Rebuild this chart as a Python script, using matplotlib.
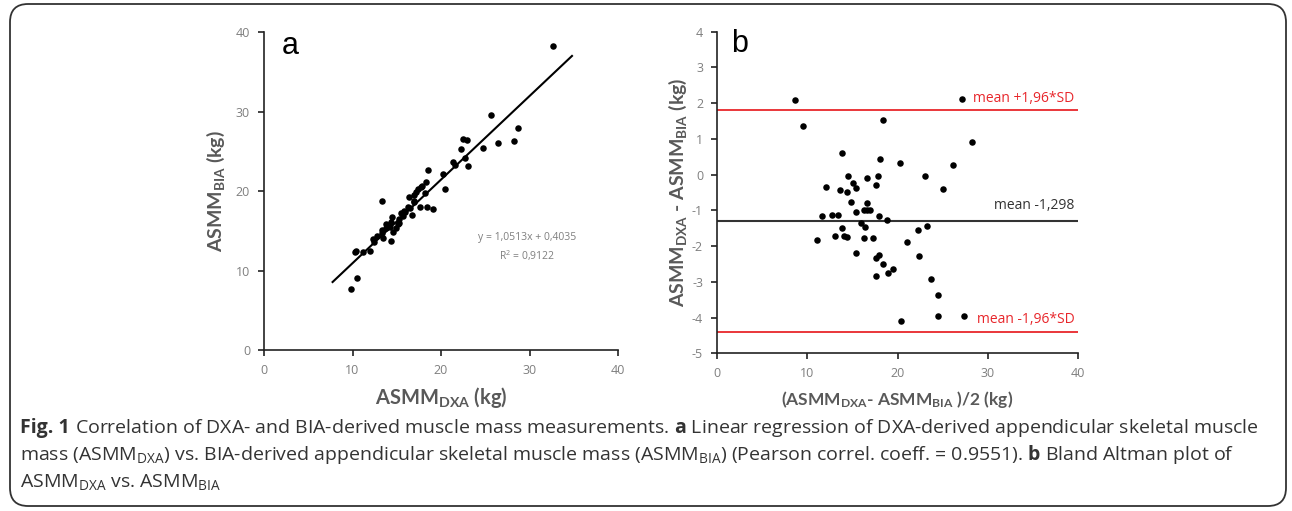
import matplotlib
matplotlib.use("Agg")
import matplotlib.pyplot as plt
from matplotlib.patches import FancyBboxPatch
import numpy as np

plt.rcParams['axes.unicode_minus'] = False
plt.rcParams['mathtext.fontset'] = 'custom'
plt.rcParams['mathtext.rm'] = 'Open Sans'
plt.rcParams['mathtext.it'] = 'Open Sans:italic'
plt.rcParams['mathtext.bf'] = 'Open Sans:bold'
plt.rcParams['mathtext.sf'] = 'Lato:bold'

# ---- Panel a data: ASMM_DXA vs ASMM_BIA ----
dxa = [32.7, 25.6, 28.7, 26.4, 28.2, 24.8, 22.5, 22.9, 22.3, 22.7, 23.1, 21.3, 21.6,
       20.2, 20.5, 18.5, 18.3, 17.7, 17.4, 18.2, 19.1, 18.4, 17.6, 16.9, 17.0, 16.4,
       16.9, 16.5, 15.8, 15.5, 15.7, 16.7, 15.3, 15.1, 14.5, 14.4, 14.2, 14.6, 13.8,
       13.3, 13.3, 13.3, 12.8, 13.5, 14.3, 12.3, 12.4, 12.0, 11.2, 10.3, 10.5, 9.8,
       15.3, 16.3, 15.9, 13.8, 14.9, 17.2, 17.9, 10.4]
bia = [38.3, 29.6, 27.9, 26.1, 26.3, 25.4, 26.6, 26.4, 25.3, 24.2, 23.2, 23.7, 23.3,
       22.1, 20.3, 22.6, 21.1, 20.5, 20.2, 19.7, 17.7, 18.0, 18.0, 18.8, 19.5, 19.3,
       18.6, 17.8, 17.5, 17.2, 16.8, 17.0, 16.5, 15.9, 16.7, 16.1, 15.5, 14.9, 15.8,
       18.7, 15.1, 14.7, 14.3, 14.1, 13.7, 14.0, 13.6, 12.5, 12.3, 12.3, 9.1, 7.7,
       16.0, 18.0, 17.3, 15.3, 15.4, 19.9, 20.6, 12.4]
slope, intercept = 1.0513, 0.4035
line_x = [7.75, 34.8]

# ---- Panel b data: Bland-Altman ----
ba_mean = [8.6, 9.5, 27.1, 18.4, 28.3, 13.85, 18.05, 20.3, 26.2, 14.5, 16.65, 17.8,
           23.0, 17.6, 15.1, 15.4, 12.04, 13.6, 14.4, 25.0, 14.8, 16.65, 15.4, 16.3,
           16.6, 17.0, 11.6, 12.7, 13.4, 17.9, 18.8, 16.0, 16.35, 13.85, 22.3, 23.3,
           13.1, 14.1, 14.4, 16.3, 17.3, 11.1, 21.0, 15.4, 22.4, 17.6, 18.0, 18.4,
           19.5, 18.9, 17.6, 23.7, 24.5, 24.5, 27.4, 20.4]
ba_diff = [2.09, 1.37, 2.12, 1.54, 0.92, 0.61, 0.45, 0.33, 0.28, -0.03, -0.09, -0.03,
           -0.03, -0.28, -0.23, -0.37, -0.35, -0.42, -0.48, -0.40, -0.77, -0.79, -1.05,
           -1.0, -1.0, -1.0, -1.15, -1.12, -1.12, -1.17, -1.26, -1.35, -1.46, -1.49,
           -1.54, -1.43, -1.73, -1.73, -1.75, -1.78, -1.77, -1.84, -1.89, -2.2, -2.27,
           -2.33, -2.25, -2.5, -2.63, -2.75, -2.85, -2.92, -3.36, -3.97, -3.95, -4.11]
mean_diff = -1.298
upper_loa = 1.81
lower_loa = -4.41

GRAY = '#7f7f7f'
LABEL = '#595959'
RED = '#e8262b'

fig = plt.figure(figsize=(12.92, 5.11), dpi=100)

# border
border = FancyBboxPatch((10/1292, 5/511), 1276/1292, 502/511,
                        boxstyle="round,pad=0,rounding_size=0.014",
                        transform=fig.transFigure, fill=False,
                        edgecolor='#333333', linewidth=1.3,
                        mutation_aspect=1292/511)
fig.patches.append(border)

def style(ax):
    for s in ['top', 'right']:
        ax.spines[s].set_visible(False)
    for s in ['left', 'bottom']:
        ax.spines[s].set_color('#222222')
        ax.spines[s].set_linewidth(1.2)
    ax.tick_params(direction='out', length=4, width=1.2, color='#222222',
                   labelcolor=GRAY, labelsize=9, pad=6)
    for lab in ax.get_xticklabels() + ax.get_yticklabels():
        lab.set_fontfamily('Open Sans')

LBL = dict(fontweight='bold', color=LABEL, family='Lato')

# ---- Panel a ----
axa = fig.add_axes([264/1292, 1 - 350/511, 354/1292, 318/511])
axa.scatter(dxa, bia, s=22, color='black', zorder=3, linewidths=0)
lx = np.array(line_x)
axa.plot(lx, slope * lx + intercept, color='black', lw=1.5)
axa.set_xlim(0, 40)
axa.set_ylim(0, 40)
axa.set_xticks([0, 10, 20, 30, 40])
axa.set_yticks([0, 10, 20, 30, 40])
style(axa)
axa.text(2.0, 38.2, 'a', fontsize=22, family='Liberation Sans', va='center', ha='left')
axa.text(29.7, 14.2, 'y = 1,0513x + 0,4035', fontsize=7.5, color=GRAY,
         ha='center', va='center', family='Open Sans')
axa.text(29.7, 11.9, 'R$^2$ = 0,9122', fontsize=7.5, color=GRAY,
         ha='center', va='center', family='Open Sans')
axa.set_xlabel(r'ASMM$_{\mathsf{DXA}}$ (kg)', labelpad=6, fontsize=14.5, **LBL)
axa.set_ylabel(r'ASMM$_{\mathsf{BIA}}$ (kg)', labelpad=6, fontsize=14, **LBL)

# ---- Panel b ----
axb = fig.add_axes([717/1292, 1 - 353.3/511, 361/1292, 321.6/511])
axb.scatter(ba_mean, ba_diff, s=22, color='black', zorder=3, linewidths=0)
axb.axhline(upper_loa, color=RED, lw=1.3)
axb.axhline(mean_diff, color='#333333', lw=1.5)
axb.axhline(lower_loa, color=RED, lw=1.3)
axb.set_xlim(0, 40)
axb.set_ylim(-5, 4)
axb.set_xticks([0, 10, 20, 30, 40])
axb.set_yticks(list(range(-5, 5)))
style(axb)
axb.text(1.6, 3.65, 'b', fontsize=22, family='Liberation Sans', va='center', ha='left')
axb.text(39.6, 2.13, 'mean +1,96*SD', color=RED, fontsize=10, ha='right',
         va='center', family='Open Sans')
axb.text(39.6, -0.87, 'mean -1,298', color='#333333', fontsize=10, ha='right',
         va='center', family='Open Sans')
axb.text(39.6, -4.06, 'mean -1,96*SD', color=RED, fontsize=10, ha='right',
         va='center', family='Open Sans')
axb.set_xlabel(r'(ASMM$_{\mathsf{DXA}}$- ASMM$_{\mathsf{BIA}}$ )/2 (kg)', labelpad=6,
               fontsize=12.5, **LBL)
axb.set_ylabel(r'ASMM$_{\mathsf{DXA}}$ - ASMM$_{\mathsf{BIA}}$ (kg)', labelpad=2,
               fontsize=14, **LBL)

# ---- Caption ----
cap_kw = dict(fontsize=14, family='Open Sans', color='#333333', ha='left', va='baseline')
renderer = fig.canvas.get_renderer()
x0 = 20 / 1292
y1 = 1 - 433 / 511
t_fig = fig.text(x0, y1, 'Fig. 1', fontweight='bold', **cap_kw)
bb = t_fig.get_window_extent(renderer)
x_rest = (bb.x1 + 5) / fig.bbox.width
fig.text(x_rest, y1,
         r'Correlation of DXA- and BIA-derived muscle mass measurements. '
         r'$\mathbf{a}$ Linear regression of DXA-derived appendicular skeletal muscle',
         **cap_kw)
fig.text(x0, 1 - 460/511,
         r'mass (ASMM$_{\mathrm{DXA}}$) vs. BIA-derived appendicular skeletal muscle mass '
         r'(ASMM$_{\mathrm{BIA}}$) (Pearson correl. coeff. = 0.9551). $\mathbf{b}$ Bland Altman plot of',
         **cap_kw)
fig.text(x0, 1 - 487/511,
         r'ASMM$_{\mathrm{DXA}}$ vs. ASMM$_{\mathrm{BIA}}$', **cap_kw)

fig.savefig('out.png', dpi=100)
